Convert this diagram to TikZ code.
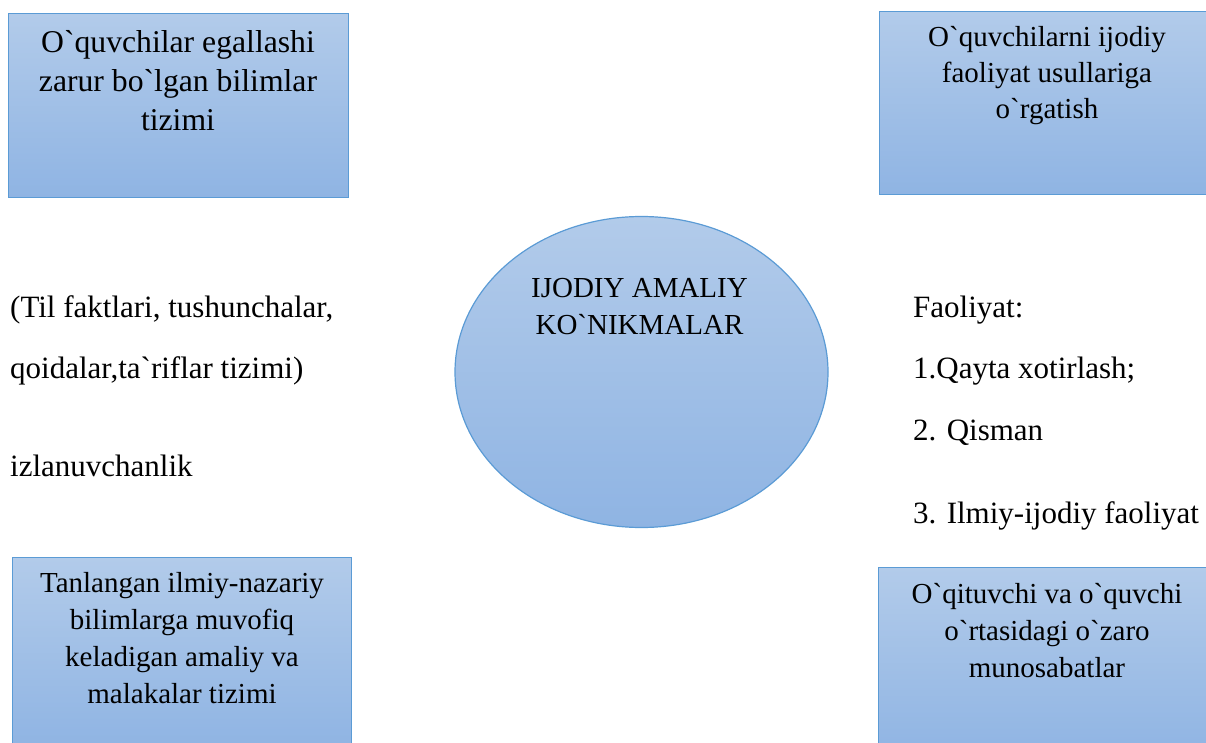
\documentclass[tikz,border=0pt]{standalone}
\usepackage{fontspec}
\newfontfamily\uzfont{Liberation Serif}
\usetikzlibrary{shapes.geometric}

\begin{document}
\begin{tikzpicture}[x=1pt,y=-1pt,
    bluebox/.style={draw=r91g155b213, line width=1.2pt, top color=r178g203b234,
      bottom color=r143g180b227, inner sep=0pt, anchor=north west},
    blueoval/.style={ellipse, draw=r91g155b213, line width=1.2pt, top color=r178g203b234,
      bottom color=r143g180b227, inner sep=0pt},
    boxtext/.style={align=center, anchor=base, inner sep=0pt},
    sidetext/.style={anchor=base west, inner sep=0pt, font=\uzfont\fontsize{31}{37}\selectfont}]
  \clip (0,0) rectangle (1206,743);

  % Changing color 91 155 213 (border)
  \definecolor{r91g155b213}{RGB}{91,155,213}%
  % Changing color 178 203 234 (shading top)
  \definecolor{r178g203b234}{RGB}{178,203,234}%
  % Changing color 143 180 227 (shading bottom)
  \definecolor{r143g180b227}{RGB}{143,180,227}%

  % Drawing box knowledge (top left), text placed by its last line
  \node [bluebox, minimum width=340, minimum height=184] (knowbox) at (8,13) {};
  \node [boxtext, font=\uzfont\fontsize{31.7}{39}\selectfont] (knowtext) at (178,131)
    {O`quvchilar egallashi\\zarur bo`lgan bilimlar\\tizimi};

  % Drawing box methods (top right)
  \node [bluebox, minimum width=336, minimum height=183] (methbox) at (879,11) {};
  \node [boxtext, font=\uzfont\fontsize{29}{36}\selectfont] (methtext) at (1047,119)
    {O`quvchilarni ijodiy\\faoliyat usullariga\\o`rgatish};

  % Drawing box skills (bottom left)
  \node [bluebox, minimum width=339, minimum height=190] (skillbox) at (12,557) {};
  \node [boxtext, font=\uzfont\fontsize{29}{36.7}\selectfont] (skilltext) at (182,703)
    {Tanlangan ilmiy-nazariy\\bilimlarga muvofiq\\keladigan amaliy va\\malakalar tizimi};

  % Drawing box relations (bottom right)
  \node [bluebox, minimum width=337, minimum height=190] (relbox) at (878,567) {};
  \node [boxtext, font=\uzfont\fontsize{29}{37}\selectfont] (reltext) at (1047,677)
    {O`qituvchi va o`quvchi\\o`rtasidagi o`zaro\\munosabatlar};

  % Drawing ellipse centre
  \node [blueoval, minimum width=373, minimum height=311] (centre) at (641.5,372) {};
  \node [boxtext, font=\uzfont\fontsize{29}{37}\selectfont] (centretext) at (639.5,334)
    {IJODIY AMALIY\\KO`NIKMALAR};

  % Marking left texts
  \node [sidetext] (factsa) at (10,317) {(Til faktlari, tushunchalar,};
  \node [sidetext] (factsb) at (10,378) {qoidalar,ta`riflar tizimi)};
  \node [sidetext] (search) at (10,476) {izlanuvchanlik};

  % Marking right texts
  \node [sidetext] (act) at (913,317) {Faoliyat:};
  \node [sidetext] (acta) at (913,378) {1.Qayta xotirlash;};
  \node [sidetext] (actb) at (913,440) {2. Qisman};
  \node [sidetext] (actc) at (913,523) {3. Ilmiy-ijodiy faoliyat};
\end{tikzpicture}
\end{document}
